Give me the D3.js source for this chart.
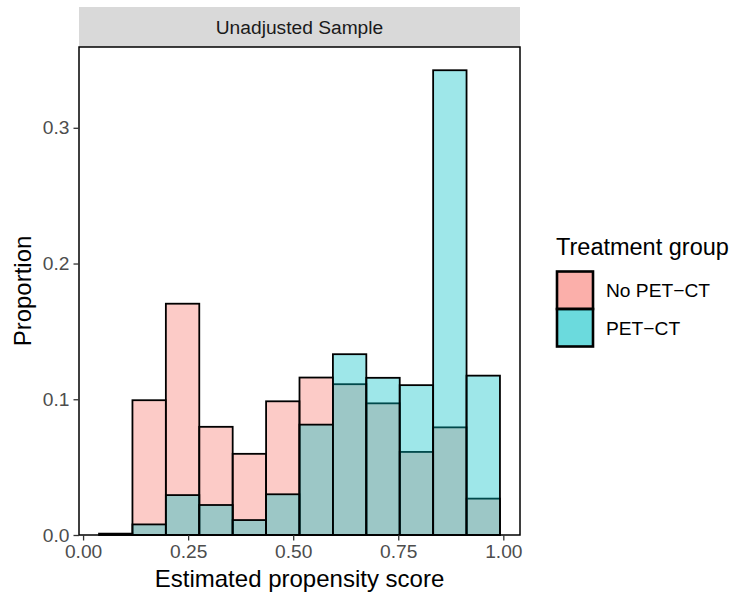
<!DOCTYPE html>
<html>
<head>
<meta charset="utf-8">
<script src="https://cdn.jsdelivr.net/npm/d3@7"></script>
<style>
  html, body { margin: 0; padding: 0; background: #fff; }
  svg { display: block; font-family: "Liberation Sans", Arial, Helvetica, sans-serif; }
</style>
</head>
<body>
<svg id="chart" width="730" height="596"></svg>
<script>
// Histogram bin edges (propensity score)
const binEdges = [0.038, 0.1175, 0.197, 0.2765, 0.356, 0.4355, 0.515, 0.5945, 0.674, 0.7535, 0.833, 0.9125, 0.992];

// Proportion of each group falling into each bin
const noPetCt = [0.001, 0.0993, 0.1704, 0.0797, 0.0598, 0.0985, 0.116, 0.1111, 0.097, 0.0612, 0.0793, 0.0268];
const petCt   = [0.000, 0.0078, 0.0294, 0.0221, 0.011, 0.030, 0.0813, 0.1332, 0.1158, 0.1104, 0.3424, 0.1174];

const groupNames = ["No PET\u2212CT", "PET\u2212CT"];
const groupColors = ["#F8766D", "#00BFC4"];

const xTicks = [0, 0.25, 0.5, 0.75, 1];
const xTickLabels = ["0.00", "0.25", "0.50", "0.75", "1.00"];
const yTicks = [0, 0.1, 0.2, 0.3];
const yTickLabels = ["0.0", "0.1", "0.2", "0.3"];

const panel = { left: 79, right: 520, top: 47, bottom: 535 };

const svg = d3.select("#chart");

// x scale with 5% expansion around the binned range
const xMin = binEdges[0], xMax = binEdges[binEdges.length - 1];
const xPad = (xMax - xMin) * 0.05;
const x = d3.scaleLinear().domain([xMin - xPad, xMax + xPad]).range([panel.left, panel.right]);

// y scale starts at zero, 5% headroom on top
const yMax = d3.max(noPetCt.concat(petCt)) * 1.05;
const y = d3.scaleLinear().domain([0, yMax]).range([panel.bottom, panel.top]);

// facet strip
svg.append("rect")
  .attr("x", panel.left).attr("y", 7)
  .attr("width", panel.right - panel.left).attr("height", panel.top - 7)
  .attr("fill", "#D9D9D9");
svg.append("text")
  .attr("x", (panel.left + panel.right) / 2).attr("y", 34)
  .attr("text-anchor", "middle")
  .attr("font-size", 19.2).attr("fill", "#1A1A1A")
  .text("Unadjusted Sample");

// bars: one layer per group, drawn in order
const series = [noPetCt, petCt];
series.forEach((vals, gi) => {
  const bins = vals.map((v, i) => ({ x0: binEdges[i], x1: binEdges[i + 1], v }));
  svg.append("g").selectAll("rect")
    .data(bins)
    .join("rect")
    .attr("x", d => x(d.x0))
    .attr("width", d => x(d.x1) - x(d.x0))
    .attr("y", d => y(d.v))
    .attr("height", d => y(0) - y(d.v))
    .attr("fill", groupColors[gi])
    .attr("fill-opacity", 0.38)
    .attr("stroke", "#000")
    .attr("stroke-width", 1.8);
});

// panel border
svg.append("rect")
  .attr("x", panel.left).attr("y", panel.top)
  .attr("width", panel.right - panel.left).attr("height", panel.bottom - panel.top)
  .attr("fill", "none").attr("stroke", "#000").attr("stroke-width", 1.5);

// x axis
const xAxis = d3.axisBottom(x).tickValues(xTicks)
  .tickFormat((d, i) => xTickLabels[i]).tickSize(5.5).tickPadding(4);
const gx = svg.append("g").attr("transform", `translate(0,${panel.bottom})`).call(xAxis);
gx.select(".domain").remove();
gx.selectAll(".tick line").attr("stroke", "#333333").attr("stroke-width", 1.3);
gx.selectAll(".tick text").attr("font-size", 19.2).attr("fill", "#4D4D4D")
  .attr("font-family", "Liberation Sans, Arial, sans-serif");

// y axis
const yAxis = d3.axisLeft(y).tickValues(yTicks)
  .tickFormat((d, i) => yTickLabels[i]).tickSize(5.5).tickPadding(4);
const gy = svg.append("g").attr("transform", `translate(${panel.left},0)`).call(yAxis);
gy.select(".domain").remove();
gy.selectAll(".tick line").attr("stroke", "#333333").attr("stroke-width", 1.3);
gy.selectAll(".tick text").attr("font-size", 19.2).attr("fill", "#4D4D4D")
  .attr("font-family", "Liberation Sans, Arial, sans-serif");

// axis titles
svg.append("text")
  .attr("x", (panel.left + panel.right) / 2).attr("y", 587)
  .attr("text-anchor", "middle").attr("font-size", 24).attr("fill", "#000")
  .text("Estimated propensity score");
svg.append("text")
  .attr("transform", `translate(31,${(panel.top + panel.bottom) / 2}) rotate(-90)`)
  .attr("text-anchor", "middle").attr("font-size", 24).attr("fill", "#000")
  .text("Proportion");

// legend
const legend = svg.append("g").attr("transform", "translate(556,0)");
legend.append("text")
  .attr("x", 0).attr("y", 255)
  .attr("font-size", 23.5).attr("fill", "#000")
  .text("Treatment group");
groupNames.forEach((name, i) => {
  const top = 271.5 + i * 37.5;
  legend.append("rect")
    .attr("x", 1).attr("y", top)
    .attr("width", 36).attr("height", 37.5)
    .attr("fill", groupColors[i]).attr("fill-opacity", 0.58)
    .attr("stroke", "#000").attr("stroke-width", 2.6);
  legend.append("text")
    .attr("x", 50).attr("y", top + 18.75 + 7)
    .attr("font-size", 19.2).attr("fill", "#000")
    .text(name);
});
</script>
</body>
</html>
